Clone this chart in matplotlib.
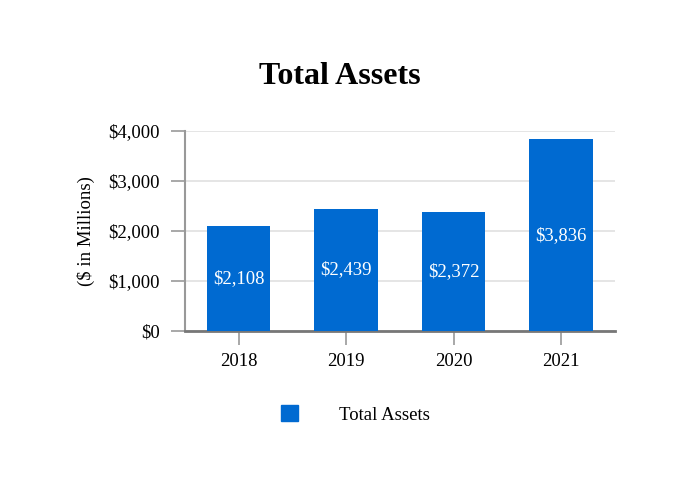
import matplotlib.pyplot as plt
from matplotlib.patches import Patch

years = ["2018", "2019", "2020", "2021"]
total_assets = [2108, 2439, 2372, 3836]
bar_labels = ["$2,108", "$2,439", "$2,372", "$3,836"]
y_ticks = [0, 1000, 2000, 3000, 4000]
y_tick_labels = ["$0", "$1,000", "$2,000", "$3,000", "$4,000"]

BLUE = "#006ad1"

plt.rcParams["font.family"] = ["Liberation Serif", "DejaVu Serif"]

fig = plt.figure(figsize=(6.8, 5), dpi=100)
ax = fig.add_axes([0.272, 0.338, 0.632, 0.4])

x = range(len(years))
bars = ax.bar(x, total_assets, width=0.59, color=BLUE, zorder=3)
for b, lab in zip(bars, bar_labels):
   ax.text(b.get_x() + b.get_width() / 2, b.get_height() / 2, lab,
           ha="center", va="center", color="white", fontsize=13.5, zorder=4)

ax.set_xlim(-0.5, 3.5)
ax.set_ylim(0, 4000)
ax.set_xticks(list(x))
ax.set_xticklabels(years, fontsize=13.5)
ax.set_yticks(y_ticks)
ax.set_yticklabels(y_tick_labels, fontsize=13.5)
ax.set_ylabel("($ in Millions)", fontsize=13.5, labelpad=10)

ax.grid(axis="y", color="#e3e3e3", linewidth=1.3, zorder=0)
for s in ["top", "right"]:
   ax.spines[s].set_visible(False)
ax.spines["left"].set_color("#999999")
ax.spines["left"].set_linewidth(1.5)
ax.spines["bottom"].set_color("#777777")
ax.spines["bottom"].set_linewidth(2)
ax.tick_params(axis="y", length=10, width=1.2, color="#999999", pad=8)
ax.tick_params(axis="x", length=10, width=1.2, color="#999999", pad=6)

fig.suptitle("Total Assets", fontsize=23, fontweight="bold", y=0.875)

fig.legend(handles=[Patch(color=BLUE, label="Total Assets")], loc="center",
           bbox_to_anchor=(0.523, 0.171), frameon=False, fontsize=13.5,
           handlelength=0.9, handleheight=0.9, handletextpad=2.2)

fig.savefig("out.png", dpi=100)
